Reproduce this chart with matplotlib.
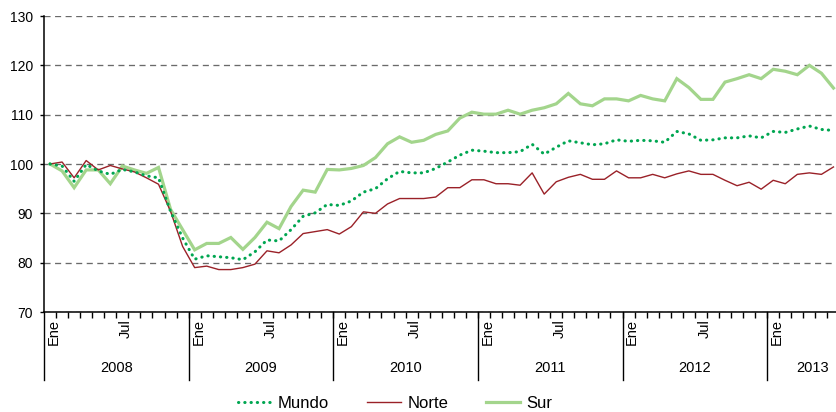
import matplotlib
matplotlib.use("Agg")
import matplotlib.pyplot as plt
from matplotlib.lines import Line2D

plt.rcParams['font.family'] = ['Liberation Sans', 'DejaVu Sans']

years = ["2008", "2009", "2010", "2011", "2012", "2013"]
month_labels = {0: "Ene", 6: "Jul"}

mundo = [100.0, 99.6, 96.5, 99.9, 98.6, 97.9, 98.9, 98.4, 97.6, 97.2, 90.4, 85.0,
         80.7, 81.4, 81.2, 81.0, 80.6, 82.2, 84.6, 84.4, 86.7, 89.4, 90.1, 91.8,
         91.6, 92.5, 94.3, 95.0, 97.0, 98.5, 98.2, 98.2, 99.1, 100.4, 101.8, 102.8,
         102.6, 102.3, 102.3, 102.5, 104.0, 102.0, 103.4, 104.7, 104.3, 103.9, 104.1, 104.9,
         104.6, 104.8, 104.7, 104.4, 106.6, 106.1, 104.8, 104.9, 105.3, 105.3, 105.7, 105.3,
         106.6, 106.4, 107.1, 107.7, 107.0, 106.8]
norte = [100.0, 100.4, 97.2, 100.7, 98.8, 99.7, 99.0, 98.4, 97.2, 95.9, 90.4, 83.3,
         79.0, 79.3, 78.6, 78.6, 79.0, 79.7, 82.4, 82.0, 83.6, 85.9, 86.3, 86.7,
         85.8, 87.3, 90.3, 90.0, 91.9, 93.0, 93.0, 93.0, 93.3, 95.2, 95.2, 96.8,
         96.8, 96.0, 96.0, 95.7, 98.2, 93.9, 96.4, 97.3, 97.9, 96.9, 96.9, 98.6,
         97.2, 97.2, 97.9, 97.2, 98.0, 98.6, 97.9, 97.9, 96.7, 95.6, 96.3, 94.9,
         96.7, 96.0, 97.9, 98.2, 97.9, 99.4]
sur = [100.0, 98.6, 95.2, 98.8, 98.8, 96.0, 99.6, 98.8, 98.1, 99.3, 90.8, 86.7,
       82.6, 83.9, 83.9, 85.1, 82.7, 85.1, 88.2, 86.9, 91.4, 94.7, 94.3, 98.9,
       98.8, 99.1, 99.7, 101.3, 104.1, 105.5, 104.4, 104.8, 106.0, 106.7, 109.3, 110.5,
       110.1, 110.1, 110.9, 110.1, 110.9, 111.4, 112.2, 114.3, 112.2, 111.8, 113.2, 113.2,
       112.8, 113.9, 113.2, 112.8, 117.3, 115.5, 113.1, 113.1, 116.6, 117.3, 118.1, 117.3,
       119.2, 118.8, 118.1, 120.0, 118.4, 115.4]
yticks = [70, 80, 90, 100, 110, 120, 130]

n = len(mundo)
x = list(range(n))

W, H = 836, 412
fig = plt.figure(figsize=(W / 100, H / 100), dpi=100)
ax = fig.add_axes([44 / W, 100 / H, 792 / W, 296 / H])

l_sur, = ax.plot(x, sur, color='#a3d58c', lw=2.3, zorder=3, solid_joinstyle='miter')
l_norte, = ax.plot(x, norte, color='#9a2128', lw=1.0, zorder=4)
l_mundo, = ax.plot(x, mundo, color='#00a651', lw=2.2, ls=(0, (0.1, 1.95)),
                   dash_capstyle='round', zorder=5)

ax.set_ylim(70, 130)
ax.set_xlim(-0.5, n - 0.5 - 3.5 / 12.05)
ax.set_yticks(yticks)
ax.tick_params(axis='y', length=3, width=1.0, pad=5, labelsize=10, colors='black')
ax.yaxis.grid(True, color='#6a6a6a', lw=0.95, ls=(0, (4.6, 3.4)))
ax.set_axisbelow(True)

# month boundaries as ticks
ax.set_xticks([i - 0.5 for i in range(1, n)])
ax.set_xticklabels([])
ax.tick_params(axis='x', length=4.5, width=1.0, direction='out')

for s in ['top', 'right']:
    ax.spines[s].set_visible(False)
for s in ['left', 'bottom']:
    ax.spines[s].set_linewidth(1.1)
    ax.spines[s].set_color('black')

tr = ax.get_xaxis_transform()
ah = 296.0
for i in range(n):
    m = i % 12
    if m in month_labels:
        ax.text(i + 0.3, -7 / ah, month_labels[m], rotation=90, ha='center', va='top',
                fontsize=10.5, transform=tr)
for k, yr in enumerate(years):
    x0 = -0.5 + 12 * k
    ax.add_line(Line2D([x0, x0], [0, -68 / ah], transform=tr, color='black',
                       lw=1.0, clip_on=False))
    xc = x0 + 6
    if k == len(years) - 1:
        xc = x0 + 3.75
    ax.text(xc, -56 / ah, yr, ha='center', va='center', fontsize=10.5, transform=tr)

fig.legend([l_mundo, l_norte, l_sur], ["Mundo", "Norte", "Sur"], loc='center',
           bbox_to_anchor=(395 / W, 9 / H), ncol=3, frameon=False, fontsize=12,
           handlelength=2.0, handletextpad=0.4, columnspacing=2.3, borderpad=0)

fig.savefig("out.png", dpi=100)
